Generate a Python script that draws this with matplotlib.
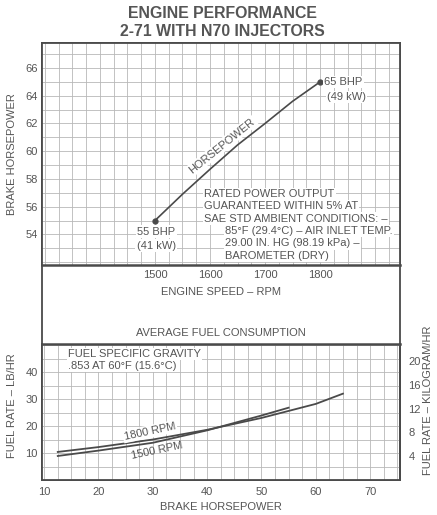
import matplotlib
matplotlib.use("Agg")
import matplotlib.pyplot as plt
from matplotlib.ticker import MultipleLocator

plt.rcParams['font.family'] = ['Liberation Sans', 'DejaVu Sans']

# engine speed vs brake horsepower
rpm = [1500, 1550, 1600, 1650, 1700, 1750, 1800]
bhp = [55.0, 56.9, 58.7, 60.45, 62.0, 63.6, 65.0]
rpm_ticks = [1500, 1600, 1700, 1800]
bhp_ticks = [54, 56, 58, 60, 62, 64, 66]

# fuel rate (lb/hr) vs brake horsepower
hp_1800 = [12.5, 20, 30, 40, 50, 60, 65]
fuel_1800 = [10.4, 12.2, 15.0, 18.6, 23.0, 28.2, 32.0]
hp_1500 = [12.5, 20, 30, 40, 50, 55]
fuel_1500 = [8.9, 10.9, 13.8, 18.4, 23.9, 26.8]
hp_ticks = [10, 20, 30, 40, 50, 60, 70]
lb_ticks = [10, 20, 30, 40]
kg_ticks = [4, 8, 12, 16, 20]
LB_TO_KG = 0.4536

note_lines = ["RATED POWER OUTPUT", "GUARANTEED WITHIN 5% AT",
              "SAE STD AMBIENT CONDITIONS: \u2013"]
note_lines2 = ["85\u00b0F (29.4\u00b0C) \u2013 AIR INLET TEMP.",
               "29.00 IN. HG (98.19 kPa) \u2013", "BAROMETER (DRY)"]

TXT = '#555555'
LINE = '#4a4a4a'
GRID = '#b8b8b8'
FS = 8
W, H = 437, 515


def box(x0, y0, x1, y1):
    return [x0 / W, 1 - y1 / H, (x1 - x0) / W, (y1 - y0) / H]


def fxy(x, y):
    return x / W, 1 - y / H


fig = plt.figure(figsize=(4.37, 5.15), dpi=100)

# outer frame around both panels
frame = fig.add_axes(box(42, 43, 400, 480))
frame.set_xticks([])
frame.set_yticks([])
frame.patch.set_alpha(0)
for s in frame.spines.values():
    s.set_color(LINE)
    s.set_linewidth(1.3)

white = dict(facecolor='white', edgecolor='none', pad=1.0)

# ---- top panel: horsepower ----
ax = fig.add_axes(box(42, 43, 400, 265))
ax.set_xlim(1295, 1945)
ax.set_ylim(51.8, 67.8)
ax.set_xticks(rpm_ticks)
ax.set_yticks(bhp_ticks)
ax.xaxis.set_minor_locator(MultipleLocator(25))
ax.yaxis.set_minor_locator(MultipleLocator(1))
ax.grid(which='both', color=GRID, lw=0.6)
ax.set_axisbelow(True)
ax.tick_params(which='both', length=0, labelsize=FS, labelcolor=TXT)
ax.tick_params(axis='x', pad=3.5)
ax.tick_params(axis='y', pad=3)
for s in ax.spines.values():
    s.set_color(LINE)
    s.set_linewidth(1.3)
ax.spines['bottom'].set_linewidth(1.8)
ax.set_ylabel('BRAKE HORSEPOWER', fontsize=FS, color=TXT)
ax.yaxis.set_label_coords(-0.07, 0.5)
ax.set_xlabel('ENGINE SPEED \u2013 RPM', fontsize=FS, color=TXT)
ax.xaxis.set_label_coords(0.5, -0.098)

ax.plot(rpm, bhp, color=LINE, lw=1.2)
ax.plot([rpm[0], rpm[-1]], [bhp[0], bhp[-1]], 'o', color=LINE, ms=3.5)
ax.annotate('65 BHP', xy=(rpm[-1], bhp[-1]), xytext=(3, 0), textcoords='offset points',
            ha='left', va='center', fontsize=FS, color=TXT, bbox=white)
ax.annotate('(49 kW)', xy=(rpm[-1], bhp[-1]), xytext=(5, -11), textcoords='offset points',
            ha='left', va='center', fontsize=FS, color=TXT, bbox=white)
ax.annotate('55 BHP', xy=(rpm[0], bhp[0]), xytext=(1, -8), textcoords='offset points',
            ha='center', va='center', fontsize=FS, color=TXT, bbox=white)
ax.annotate('(41 kW)', xy=(rpm[0], bhp[0]), xytext=(1, -18), textcoords='offset points',
            ha='center', va='center', fontsize=FS, color=TXT, bbox=white)
ax.text(1622, 60.4, 'HORSEPOWER', rotation=39, rotation_mode='anchor',
        ha='center', va='center', fontsize=FS, color=TXT, bbox=white)

for i, t in enumerate(note_lines):
    fig.text(*fxy(204, 194 + i * 12.4), t, ha='left', va='center', fontsize=FS,
             color=TXT, bbox=white)
for i, t in enumerate(note_lines2):
    fig.text(*fxy(225, 231 + i * 12.4), t, ha='left', va='center', fontsize=FS,
             color=TXT, bbox=white)

# ---- bottom panel: fuel consumption ----
bx = fig.add_axes(box(42, 344, 400, 480))
bx.set_xlim(9.6, 75.5)
bx.set_ylim(0, 50.4)
bx.set_xticks(hp_ticks)
bx.set_yticks(lb_ticks)
bx.xaxis.set_minor_locator(MultipleLocator(2.5))
bx.yaxis.set_minor_locator(MultipleLocator(5))
bx.grid(which='both', color=GRID, lw=0.6)
bx.set_axisbelow(True)
bx.tick_params(which='both', length=0, labelsize=FS, labelcolor=TXT)
bx.tick_params(axis='x', pad=5)
bx.tick_params(axis='y', pad=3)
for s in bx.spines.values():
    s.set_color(LINE)
    s.set_linewidth(1.3)
bx.spines['top'].set_linewidth(1.8)
bx.set_ylabel('FUEL RATE \u2013 LB/HR', fontsize=FS, color=TXT)
bx.yaxis.set_label_coords(-0.07, 0.55)
bx.set_xlabel('BRAKE HORSEPOWER', fontsize=FS, color=TXT)
bx.xaxis.set_label_coords(0.5, -0.16)

sec = bx.secondary_yaxis('right', functions=(lambda v: v * LB_TO_KG, lambda v: v / LB_TO_KG))
sec.set_yticks(kg_ticks)
sec.tick_params(length=0, labelsize=FS, labelcolor=TXT, pad=6)
sec.spines['right'].set_color(LINE)
sec.spines['right'].set_linewidth(1.3)
fig.text(*fxy(428, 400), 'FUEL RATE \u2013 KILOGRAM/HR', rotation=90, ha='center',
         va='center', fontsize=FS, color=TXT)

bx.plot(hp_1800, fuel_1800, color=LINE, lw=1.3)
bx.plot(hp_1500, fuel_1500, color=LINE, lw=1.3)
fig.text(*fxy(150, 431.5), '1800 RPM', rotation=12, ha='center', va='center',
         fontsize=FS, color=TXT, bbox=white)
fig.text(*fxy(157, 450.5), '1500 RPM', rotation=12, ha='center', va='center',
         fontsize=FS, color=TXT)
fig.text(*fxy(68, 354), 'FUEL SPECIFIC GRAVITY', ha='left', va='center', fontsize=FS,
         color=TXT, bbox=white)
fig.text(*fxy(68, 366), '.853 AT 60\u00b0F (15.6\u00b0C)', ha='left', va='center',
         fontsize=FS, color=TXT, bbox=white)

fig.text(*fxy(221, 333), 'AVERAGE FUEL CONSUMPTION', ha='center', va='center',
         fontsize=FS, color=TXT)

fig.text(*fxy(222, 14), 'ENGINE PERFORMANCE', ha='center', va='center',
         fontsize=11.4, fontweight='bold', color=TXT)
fig.text(*fxy(222, 31), '2-71 WITH N70 INJECTORS', ha='center', va='center',
         fontsize=11.4, fontweight='bold', color=TXT)

fig.savefig('out.png', dpi=100)
